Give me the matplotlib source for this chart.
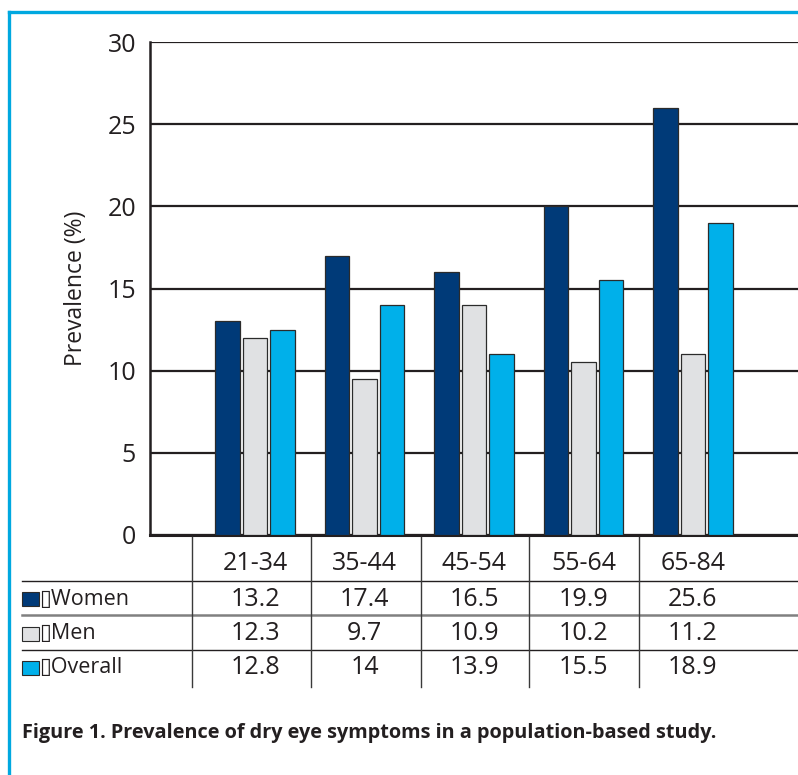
import numpy as np
import matplotlib
matplotlib.use("Agg")
import matplotlib.pyplot as plt
from matplotlib.lines import Line2D
from matplotlib.patches import Rectangle
import matplotlib.transforms as mtransforms

# -------------------------------
# Data
# -------------------------------
age_groups = ["21-34", "35-44", "45-54", "55-64", "65-84"]
series_names = ["Women", "Men", "Overall"]
# bar heights as drawn in the figure
women_bars = [13, 17, 16, 20, 26]
men_bars = [12, 9.5, 14, 10.5, 11]
overall_bars = [12.5, 14, 11, 15.5, 19]
# values printed in the data table
women_table = ["13.2", "17.4", "16.5", "19.9", "25.6"]
men_table = ["12.3", "9.7", "10.9", "10.2", "11.2"]
overall_table = ["12.8", "14", "13.9", "15.5", "18.9"]
y_ticks = [0, 5, 10, 15, 20, 25, 30]

colors = {"Women": "#003a78", "Men": "#e0e1e3", "Overall": "#00b0ea"}
text_col = "#231f20"
plt.rcParams['font.family'] = ['Open Sans', 'DejaVu Sans']

W, H = 798, 775
fig = plt.figure(figsize=(W / 100, H / 100), dpi=100)

def fx(px):
    return px / W

def fy(py):
    return 1 - py / H

# -------------------------------
# Bar chart
# -------------------------------
ax_left, ax_top, ax_bot = 150, 42, 535
ax = fig.add_axes([fx(ax_left), fy(ax_bot), 1 - fx(ax_left), (ax_bot - ax_top) / H])
x = np.arange(1, len(age_groups) + 1)
width = 0.225
offsets = [-0.25, 0, 0.25]
for vals, name, off in zip([women_bars, men_bars, overall_bars], series_names, offsets):
    ax.bar(x + off, vals, width, color=colors[name], edgecolor="#2b2b2b",
           linewidth=0.9, zorder=3)

ax.set_xlim(0.041, 5.959)
ax.set_ylim(0, 30)
ax.set_yticks(y_ticks)
ax.set_xticks([])
ax.yaxis.grid(True, color=text_col, linewidth=1.6, zorder=0)
ax.tick_params(axis='y', length=0, pad=10, labelsize=18, labelcolor=text_col)
for s in ["top", "right"]:
    ax.spines[s].set_visible(False)
ax.spines["left"].set_linewidth(1.8)
ax.spines["left"].set_color(text_col)
ax.spines["bottom"].set_linewidth(2.2)
ax.spines["bottom"].set_color(text_col)
ax.set_ylabel("Prevalence (%)", fontsize=16.5, color=text_col, labelpad=14)

# -------------------------------
# Data table below the axes
# -------------------------------
blend = mtransforms.blended_transform_factory(ax.transData, fig.transFigure)
for i, lab in enumerate(age_groups):
    ax.text(x[i], fy(564), lab, transform=blend, ha='center', va='center',
            fontsize=18, color=text_col)

row_y = [599, 634, 668]
tables = [women_table, men_table, overall_table]
for ry, vals in zip(row_y, tables):
    for i, v in enumerate(vals):
        ax.text(x[i], fy(ry), v, transform=blend, ha='center', va='center',
                fontsize=18, color=text_col)

# legend keys + row labels
for ry, name in zip(row_y, series_names):
    fig.patches.append(Rectangle((fx(22), fy(ry + 7)), 17 / W, 14 / H,
                                 transform=fig.transFigure, facecolor=colors[name],
                                 edgecolor="#2b2b2b", linewidth=0.8))
    fig.text(fx(39), fy(ry), "\u25af" + name, ha='left', va='center',
             fontsize=15.5, color=text_col)

# table rules
for ly, c, lw in [(581, text_col, 1.0), (615, "#808080", 1.8), (650, text_col, 1.0)]:
    fig.add_artist(Line2D([fx(22), 1.0], [fy(ly), fy(ly)], color=c, linewidth=lw))
for vx in [192, 311, 421, 529, 639]:
    fig.add_artist(Line2D([fx(vx), fx(vx)], [fy(537), fy(687)], color="#3a3a3a",
                          linewidth=1.0))

# caption
fig.text(fx(22), fy(733), "Figure 1. Prevalence of dry eye symptoms in a population-based study.",
         ha='left', va='center', fontsize=14.3, fontweight='bold', color=text_col)

# blue frame (left and top edges)
fig.add_artist(Line2D([fx(9), fx(9)], [0, fy(12)], color="#00a8e0", linewidth=2.4))
fig.add_artist(Line2D([fx(9), 1.0], [fy(12), fy(12)], color="#00a8e0", linewidth=2.4))

fig.savefig("out.png", dpi=100)
